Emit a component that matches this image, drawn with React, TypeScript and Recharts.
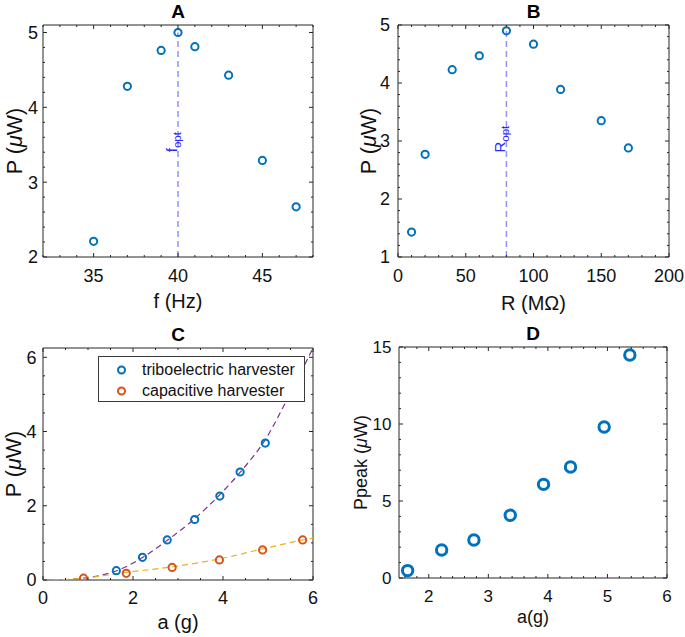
import React from "react";
import { ScatterChart, Scatter, XAxis, YAxis, ReferenceLine, ReferenceDot, Label, Legend } from "recharts";

const FONT = '"Liberation Sans", Arial, Helvetica, sans-serif';
const AXIS = "#262626";
const TEXT = "#111";
const BLUE = "#0072BD";
const ORANGE = "#D95319";
const PURPLE = "#7E2F8E";
const GOLD = "#EDB120";
const REF = "#9292ff";
const REF_TEXT = "#2a2aff";

// A: power vs drive frequency
const freqHz = [35, 37, 39, 40, 41, 43, 45, 47];
const powerVsFreq = [2.21, 4.28, 4.76, 5.0, 4.81, 4.43, 3.29, 2.67];
const fOpt = 40;

// B: power vs load resistance
const loadMOhm = [10, 20, 40, 60, 80, 100, 120, 150, 170];
const powerVsLoad = [1.43, 2.77, 4.23, 4.47, 4.9, 4.67, 3.89, 3.35, 2.88];
const rOpt = 80;

// C: power vs acceleration, two harvesters + fitted curves
const accelTribo = [1.63, 2.21, 2.76, 3.37, 3.93, 4.38, 4.94];
const powerTribo = [0.25, 0.61, 1.08, 1.63, 2.26, 2.91, 3.69];
const accelCap = [0.9, 1.85, 2.87, 3.92, 4.88, 5.77];
const powerCap = [0.05, 0.18, 0.34, 0.54, 0.81, 1.08];
const fitTriboX = [0, 0.5, 0.9, 1.3, 1.64, 2.19, 2.75, 3.34, 3.93, 4.38, 4.97, 5.41, 6];
const fitTriboY = [0, 0.01, 0.05, 0.13, 0.25, 0.59, 1.06, 1.62, 2.3, 2.9, 3.84, 4.83, 6.25];
const fitCapX = [0, 0.5, 0.9, 1.82, 2.9, 3.93, 4.89, 5.78, 6];
const fitCapY = [0, 0.015, 0.05, 0.2, 0.36, 0.57, 0.84, 1.08, 1.13];

// D: peak power vs acceleration
const accelPeak = [1.645, 2.216, 2.758, 3.368, 3.927, 4.38, 4.945, 5.376];
const powerPeak = [0.48, 1.82, 2.47, 4.07, 6.08, 7.21, 9.81, 14.48];

// tick labels
const ticksAX = [35, 40, 45];
const ticksAY = [2, 3, 4, 5];
const ticksBX = [0, 50, 100, 150, 200];
const ticksBY = [1, 2, 3, 4, 5];
const ticksCX = [0, 2, 4, 6];
const ticksCY = [0, 2, 4, 6];
const ticksDX = [2, 3, 4, 5, 6];
const ticksDY = [0, 5, 10, 15];

type Pt = { x: number; y: number };
const zip = (xs: number[], ys: number[]): Pt[] => xs.map((x, i) => ({ x, y: ys[i] }));

// minor + major tick positions on a step grid
function gridTicks(domain: [number, number], step: number) {
  const out: number[] = [];
  const a = Math.ceil(domain[0] / step - 1e-9);
  const b = Math.floor(domain[1] / step + 1e-9);
  for (let i = a; i <= b; i++) out.push(+(i * step).toFixed(6));
  return out;
}
const isMajor = (majors: number[], v: number) => majors.some((m) => Math.abs(m - v) < 1e-6);

type Side = "bottom" | "top" | "left" | "right";

function makeTick(side: Side, majors: number[], font: number, offset: number) {
  return (p: any) => {
    const v = p.payload.value;
    const major = isMajor(majors, v);
    const len = major ? 4 : 2;
    const { x, y } = p;
    let line;
    if (side === "bottom") line = <line x1={x} x2={x} y1={y} y2={y - len} stroke={AXIS} />;
    else if (side === "top") line = <line x1={x} x2={x} y1={y} y2={y + len} stroke={AXIS} />;
    else if (side === "left") line = <line x1={x} x2={x + len} y1={y} y2={y} stroke={AXIS} />;
    else line = <line x1={x} x2={x - len} y1={y} y2={y} stroke={AXIS} />;
    let label = null;
    if (major && side === "bottom")
      label = (
        <text x={x} y={y + offset} textAnchor="middle" fontSize={font} fontFamily={FONT} fill={TEXT}>
          {v}
        </text>
      );
    if (major && side === "left")
      label = (
        <text x={x - offset} y={y + font * 0.36} textAnchor="end" fontSize={font} fontFamily={FONT} fill={TEXT}>
          {v}
        </text>
      );
    return (
      <g>
        {line}
        {label}
      </g>
    );
  };
}

type MarkerSet = { points: Pt[]; color: string; r: number; sw: number; name: string };
type FitSet = { points: Pt[]; color: string };
type Opt = { x: number; yFrom: number; yTo: number; labelY: number; main: string; sub: string };

interface PanelProps {
  pos: { left: number; top: number; width: number; height: number };
  margin: { top: number; right: number; bottom: number; left: number };
  yAxisWidth: number;
  xAxisHeight: number;
  xDomain: [number, number];
  yDomain: [number, number];
  xMajor: number[];
  xStep: number;
  yMajor: number[];
  yStep: number;
  title: string;
  xLabel: React.ReactNode;
  yLabel: React.ReactNode;
  tickFont: number;
  xLabelFont: number;
  yLabelFont: number;
  xTickBase: number;
  yTickGap: number;
  xLabelBase: number;
  yLabelBase: number;
  markers: MarkerSet[];
  fits?: FitSet[];
  opt?: Opt;
  legend?: boolean;
}

function Panel(props: PanelProps) {
  const { pos, margin, xDomain, yDomain } = props;
  const xTicks = gridTicks(xDomain, props.xStep);
  const yTicks = gridTicks(yDomain, props.yStep);
  // top / right axes are 1px deep (a zero-size axis is not drawn), so margins give that pixel back
  const m = { ...margin, top: margin.top - 1, right: margin.right - 1 };
  return (
    <div style={{ position: "absolute", left: pos.left, top: pos.top }}>
      <ScatterChart width={pos.width} height={pos.height} margin={m}>
        <XAxis
          type="number"
          dataKey="x"
          domain={xDomain}
          ticks={xTicks}
          interval={0}
          allowDataOverflow
          tickSize={0}
          tickMargin={0}
          tickLine={false}
          axisLine={{ stroke: AXIS }}
          height={props.xAxisHeight}
          tick={makeTick("bottom", props.xMajor, props.tickFont, props.xTickBase)}
        >
          <Label
            content={(lp: any) => {
              const vb = lp.viewBox;
              return (
                <text x={vb.x + vb.width / 2} y={vb.y + props.xLabelBase} textAnchor="middle" fontSize={props.xLabelFont} fontFamily={FONT} fill={TEXT}>
                  {props.xLabel}
                </text>
              );
            }}
          />
        </XAxis>
        <XAxis
          xAxisId="top"
          orientation="top"
          type="number"
          dataKey="x"
          domain={xDomain}
          ticks={xTicks}
          interval={0}
          allowDataOverflow
          tickSize={0}
          tickMargin={0}
          tickLine={false}
          axisLine={{ stroke: AXIS }}
          height={1}
          tick={makeTick("top", props.xMajor, props.tickFont, 0)}
        >
          <Label
            content={(lp: any) => {
              const vb = lp.viewBox;
              return (
                <text x={vb.x + vb.width / 2} y={vb.y + vb.height - 7} textAnchor="middle" fontSize={19} fontWeight="bold" fontFamily={FONT} fill="#000">
                  {props.title}
                </text>
              );
            }}
          />
        </XAxis>
        <YAxis
          type="number"
          dataKey="y"
          domain={yDomain}
          ticks={yTicks}
          interval={0}
          allowDataOverflow
          tickSize={0}
          tickMargin={0}
          tickLine={false}
          axisLine={{ stroke: AXIS }}
          width={props.yAxisWidth}
          tick={makeTick("left", props.yMajor, props.tickFont, props.yTickGap)}
        >
          <Label
            content={(lp: any) => {
              const vb = lp.viewBox;
              const cx = vb.x + vb.width - props.yLabelBase;
              const cy = vb.y + vb.height / 2;
              return (
                <text x={cx} y={cy} transform={`rotate(-90 ${cx} ${cy})`} textAnchor="middle" fontSize={props.yLabelFont} fontFamily={FONT} fill={TEXT}>
                  {props.yLabel}
                </text>
              );
            }}
          />
        </YAxis>
        <YAxis
          yAxisId="right"
          orientation="right"
          type="number"
          dataKey="y"
          domain={yDomain}
          ticks={yTicks}
          interval={0}
          allowDataOverflow
          tickSize={0}
          tickMargin={0}
          tickLine={false}
          axisLine={{ stroke: AXIS }}
          width={1}
          tick={makeTick("right", props.yMajor, props.tickFont, 0)}
        />
        {props.opt && (
          <ReferenceLine
            segment={[
              { x: props.opt.x, y: props.opt.yFrom },
              { x: props.opt.x, y: props.opt.yTo },
            ]}
            stroke={REF}
            strokeWidth={1.5}
            strokeDasharray="6 4"
          />
        )}
        {props.opt && (
          <ReferenceDot x={props.opt.x} y={props.opt.labelY} r={0} fill="none" stroke="none">
            <Label
              content={(lp: any) => {
                const vb = lp.viewBox;
                const tx = vb.x - 1;
                const ty = vb.y;
                return (
                  <text x={tx} y={ty} transform={`rotate(-90 ${tx} ${ty})`} fontSize={15} fontFamily={FONT} fill={REF_TEXT}>
                    {props.opt!.main}
                    <tspan fontSize={11.5} dy={4}>
                      {props.opt!.sub}
                    </tspan>
                  </text>
                );
              }}
            />
          </ReferenceDot>
        )}
        {/* invisible copy bound to the top/right axes so the box axes get a scale */}
        <Scatter
          xAxisId="top"
          yAxisId="right"
          data={props.markers[0].points}
          shape={() => <g />}
          legendType="none"
          isAnimationActive={false}
        />
        {(props.fits || []).map((f, i) => (
          <Scatter
            key={"fit" + i}
            data={f.points}
            line={{ stroke: f.color, strokeWidth: 1.2, strokeDasharray: "6 4" }}
            lineJointType="monotoneX"
            shape={() => <g />}
            legendType="none"
            isAnimationActive={false}
          />
        ))}
        {props.markers.map((mk, i) => (
          <Scatter
            key={"m" + i}
            name={mk.name}
            data={mk.points}
            fill={mk.color}
            isAnimationActive={false}
            shape={(sp: any) => <circle cx={sp.cx} cy={sp.cy} r={mk.r} fill="none" stroke={mk.color} strokeWidth={mk.sw} />}
          />
        ))}
        {props.legend && (
          <Legend
            layout="vertical"
            align="center"
            verticalAlign="middle"
            wrapperStyle={{ left: 98, top: 56 }}
            content={() => (
              <div
                style={{
                  position: "relative",
                  width: 207,
                  height: 46,
                  boxSizing: "border-box",
                  border: "1px solid #3a3a3a",
                  background: "#fff",
                  fontFamily: FONT,
                  fontSize: 16,
                  color: TEXT,
                }}
              >
                {props.markers.map((mk, i) => (
                  <div key={mk.name} style={{ position: "absolute", left: 0, top: 3 + i * 21, height: 20, display: "flex", alignItems: "center", whiteSpace: "nowrap" }}>
                    <svg width={43} height={20}>
                      <circle cx={22.5} cy={10} r={3.5} fill="none" stroke={mk.color} strokeWidth={2} />
                    </svg>
                    <span>{mk.name}</span>
                  </div>
                ))}
              </div>
            )}
          />
        )}
      </ScatterChart>
    </div>
  );
}

const pMuW = (
  <>
    P (<tspan fontStyle="italic">μ</tspan>W)
  </>
);

export default function App() {
  return (
    <div style={{ position: "absolute", left: 0, top: 0, width: 685, height: 637, background: "#fff", fontFamily: FONT }}>
      <Panel
        pos={{ left: 0, top: 0, width: 340, height: 318 }}
        margin={{ top: 25, right: 27, bottom: 0, left: 0 }}
        yAxisWidth={43}
        xAxisHeight={61}
        xDomain={[32, 48]}
        yDomain={[2, 5.1]}
        xMajor={ticksAX}
        xStep={1}
        yMajor={ticksAY}
        yStep={0.2}
        title="A"
        xLabel="f (Hz)"
        yLabel={pMuW}
        tickFont={18}
        xLabelFont={20}
        yLabelFont={21.5}
        xTickBase={25}
        yTickGap={5}
        xLabelBase={51}
        yLabelBase={21.5}
        markers={[{ points: zip(freqHz, powerVsFreq), color: BLUE, r: 3.6, sw: 2, name: "A" }]}
        opt={{ x: fOpt, yFrom: 2, yTo: 5, labelY: 3.4, main: "f", sub: "opt" }}
      />
      <Panel
        pos={{ left: 340, top: 0, width: 345, height: 318 }}
        margin={{ top: 25, right: 16, bottom: 0, left: 0 }}
        yAxisWidth={58}
        xAxisHeight={61}
        xDomain={[0, 200]}
        yDomain={[1, 5]}
        xMajor={ticksBX}
        xStep={10}
        yMajor={ticksBY}
        yStep={0.2}
        title="B"
        xLabel="R (MΩ)"
        yLabel={pMuW}
        tickFont={18}
        xLabelFont={20}
        yLabelFont={21.5}
        xTickBase={25}
        yTickGap={8}
        xLabelBase={53}
        yLabelBase={21.6}
        markers={[{ points: zip(loadMOhm, powerVsLoad), color: BLUE, r: 3.6, sw: 2, name: "B" }]}
        opt={{ x: rOpt, yFrom: 1, yTo: 4.9, labelY: 2.8, main: "R", sub: "opt" }}
      />
      <Panel
        pos={{ left: 0, top: 300, width: 340, height: 337 }}
        margin={{ top: 48, right: 27, bottom: 0, left: 0 }}
        yAxisWidth={43}
        xAxisHeight={57}
        xDomain={[0, 6]}
        yDomain={[0, 6.25]}
        xMajor={ticksCX}
        xStep={0.5}
        yMajor={ticksCY}
        yStep={0.5}
        title="C"
        xLabel="a (g)"
        yLabel={pMuW}
        tickFont={18}
        xLabelFont={20}
        yLabelFont={21.5}
        xTickBase={24}
        yTickGap={6.5}
        xLabelBase={49}
        yLabelBase={21.7}
        fits={[
          { points: zip(fitTriboX, fitTriboY), color: PURPLE },
          { points: zip(fitCapX, fitCapY), color: GOLD },
        ]}
        markers={[
          { points: zip(accelTribo, powerTribo), color: BLUE, r: 3.6, sw: 2, name: "triboelectric harvester" },
          { points: zip(accelCap, powerCap), color: ORANGE, r: 3.6, sw: 2, name: "capacitive harvester" },
        ]}
        legend
      />
      <Panel
        pos={{ left: 340, top: 300, width: 345, height: 337 }}
        margin={{ top: 47, right: 18, bottom: 0, left: 0 }}
        yAxisWidth={59}
        xAxisHeight={59}
        xDomain={[1.5, 6]}
        yDomain={[0, 15]}
        xMajor={ticksDX}
        xStep={0.2}
        yMajor={ticksDY}
        yStep={1}
        title="D"
        xLabel="a(g)"
        yLabel={
          <>
            Ppeak (<tspan fontStyle="italic">μ</tspan>W)
          </>
        }
        tickFont={17}
        xLabelFont={18}
        yLabelFont={18}
        xTickBase={23.5}
        yTickGap={7.5}
        xLabelBase={45}
        yLabelBase={32.3}
        markers={[{ points: zip(accelPeak, powerPeak), color: BLUE, r: 5.2, sw: 3, name: "D" }]}
      />
    </div>
  );
}
